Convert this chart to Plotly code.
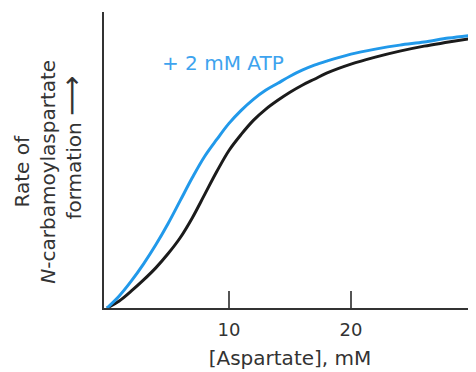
import plotly.graph_objects as go

# [Aspartate], mM
aspartate = [0, 1, 2, 3, 4, 5, 6, 7, 8, 9, 10, 11, 12, 13, 14, 15, 16, 17, 18, 20, 22, 24, 26, 28, 30]
# Rate (arbitrary units), no ATP
rate_control = [0, 7, 17, 28, 40, 54, 70, 90, 113, 136, 157, 173, 187, 198, 207, 215, 222, 228, 234, 243, 250, 256, 261, 265, 269]
# Rate (arbitrary units), + 2 mM ATP
rate_atp = [0, 12, 27, 44, 63, 84, 107, 130, 151, 168, 184, 197, 208, 217, 224, 231, 237, 242, 246, 253, 258, 262, 265, 269, 272]

x_ticks = [10, 20]
x_ticklabels = ["10", "20"]

FONT = "DejaVu Sans"
TXT = "#333333"

fig = go.Figure()
fig.add_trace(go.Scatter(x=aspartate, y=rate_control, mode="lines",
                         line=dict(color="#1b1b1b", width=3, shape="spline", smoothing=1.0),
                         showlegend=False, hoverinfo="skip"))
fig.add_trace(go.Scatter(x=aspartate, y=rate_atp, mode="lines",
                         line=dict(color="#2199ea", width=3, shape="spline", smoothing=1.0),
                         showlegend=False, hoverinfo="skip"))

fig.update_layout(
    width=468, height=364,
    margin=dict(l=96, r=0, t=4, b=64),
    paper_bgcolor="white", plot_bgcolor="white",
    font=dict(family=FONT, size=19, color=TXT),
    xaxis=dict(range=[-0.246, 30.25], showgrid=False, zeroline=False,
               showline=True, linecolor="#333333", linewidth=2,
               ticks="inside", ticklen=17, tickwidth=2, tickcolor="#555555",
               tickvals=x_ticks, ticktext=x_ticklabels, ticklabelstandoff=4,
               tickfont=dict(family=FONT, size=18, color=TXT),
               title=dict(text="[Aspartate], mM", standoff=12,
                          font=dict(family=FONT, size=20, color=TXT))),
    yaxis=dict(range=[0, 295], showgrid=False, zeroline=False,
               showline=True, linecolor="#333333", linewidth=2,
               showticklabels=False, ticks=""),
)

fig.add_annotation(xref="paper", yref="paper", x=-0.184, y=0.459,
                   xanchor="center", yanchor="middle",
                   text="Rate of<br><i>N</i>-carbamoylaspartate",
                   textangle=-90, showarrow=False,
                   font=dict(family=FONT, size=20, color=TXT))
fig.add_annotation(xref="paper", yref="paper", x=-0.086, y=0.542,
                   xanchor="center", yanchor="middle",
                   text="formation <span style='font-size:28px'>⟶</span>",
                   textangle=-90, showarrow=False,
                   font=dict(family=FONT, size=20, color=TXT))

fig.add_annotation(xref="paper", yref="paper", x=0.321, y=0.828,
                   xanchor="center", yanchor="middle",
                   text="+ 2 mM ATP", showarrow=False,
                   font=dict(family=FONT, size=20, color="#3ea3ee"))

fig.write_html("out.html")
